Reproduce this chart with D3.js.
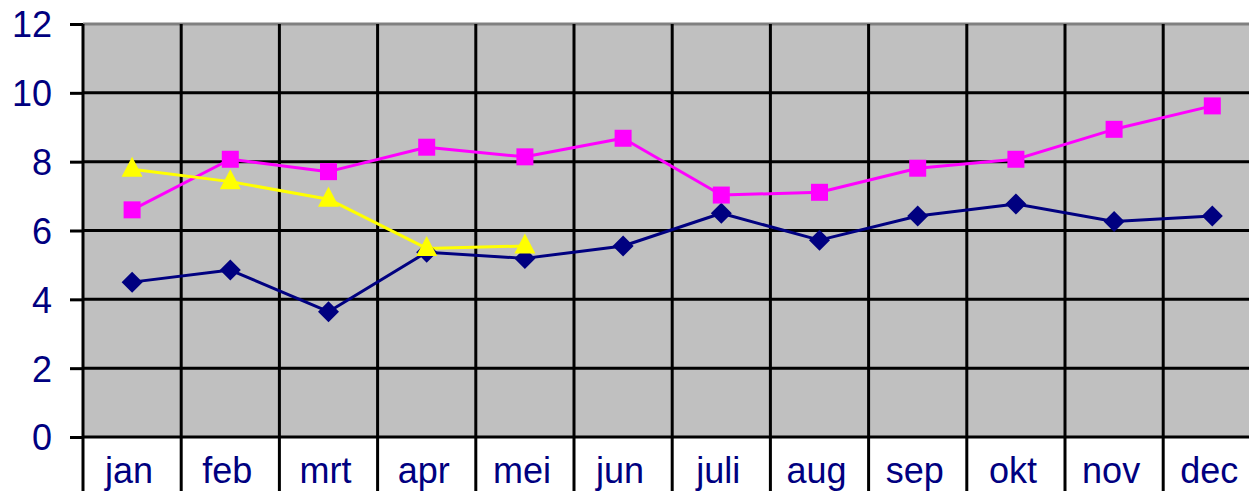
<!DOCTYPE html>
<html>
<head>
<meta charset="utf-8">
<script src="https://cdn.jsdelivr.net/npm/d3@7"></script>
<style>
  html, body { margin: 0; padding: 0; background: #fff; }
  svg { display: block; }
  text { font-family: "Liberation Sans", Arial, sans-serif; fill: #000080; }
</style>
</head>
<body>
<svg id="chart" width="1249" height="491"></svg>
<script>
const months = ["jan","feb","mrt","apr","mei","jun","juli","aug","sep","okt","nov","dec"];
const seriesNavy = [4.50, 4.85, 3.64, 5.37, 5.19, 5.55, 6.50, 5.72, 6.42, 6.77, 6.26, 6.42];
const seriesMagenta = [6.60, 8.07, 7.71, 8.42, 8.14, 8.68, 7.03, 7.11, 7.81, 8.07, 8.94, 9.62];
const seriesYellow = [7.78, 7.42, 6.91, 5.48, 5.55];
const yTicks = [0, 2, 4, 6, 8, 10, 12];

const W = 1249, H = 491;
const mLeft = 83, mTop = 24, mBottom = 437, band = 98.2;
const svg = d3.select("#chart");

const x = d3.scaleBand().domain(months).range([mLeft, mLeft + band * months.length]).padding(0);
const y = d3.scaleLinear().domain([0, 12]).range([mBottom, mTop]);
const cx = d => x(d) + x.bandwidth() / 2;

// plot background
svg.append("rect")
  .attr("x", mLeft).attr("y", y(12))
  .attr("width", x.range()[1] - mLeft).attr("height", y(0) - y(12))
  .attr("fill", "#c0c0c0");

// horizontal gridlines
svg.append("g").selectAll("line").data(yTicks).join("line")
  .attr("x1", mLeft).attr("x2", x.range()[1])
  .attr("y1", d => y(d)).attr("y2", d => y(d))
  .attr("stroke", d => d === 12 ? "#808080" : "#000")
  .attr("stroke-width", 3);

// vertical category separators (extend through label area)
svg.append("g").selectAll("line").data(months.slice(1)).join("line")
  .attr("x1", d => x(d)).attr("x2", d => x(d))
  .attr("y1", y(12)).attr("y2", H)
  .attr("stroke", "#000").attr("stroke-width", 3);

// y axis
const yAxis = svg.append("g")
  .attr("transform", `translate(${mLeft},0)`)
  .call(d3.axisLeft(y).tickValues(yTicks).tickSize(13).tickPadding(18).tickFormat(d3.format("d")));
yAxis.select(".domain").remove();
yAxis.selectAll(".tick line").attr("stroke", "#000").attr("stroke-width", 3);
yAxis.selectAll(".tick text").attr("font-size", 36).attr("dy", "0.36em")
  .style("font-family", "'Liberation Sans', Arial, sans-serif").attr("fill", "#000080");
svg.append("line")
  .attr("x1", mLeft).attr("x2", mLeft).attr("y1", y(12)).attr("y2", H)
  .attr("stroke", "#000").attr("stroke-width", 3);

// x labels
const xAxis = svg.append("g")
  .attr("transform", `translate(0,${mBottom})`)
  .call(d3.axisBottom(x).tickSize(0).tickPadding(0));
xAxis.select(".domain").remove();
xAxis.selectAll(".tick text").attr("font-size", 36).attr("y", 46).attr("dy", 0)
  .attr("dx", -3)
  .style("font-family", "'Liberation Sans', Arial, sans-serif").attr("fill", "#000080");

// lines
const line = d3.line().x((d, i) => cx(months[i])).y(d => y(d));
function drawSeries(data, color) {
  svg.append("path").datum(data)
    .attr("d", line).attr("fill", "none")
    .attr("stroke", color).attr("stroke-width", 3).attr("stroke-linejoin", "round");
}
drawSeries(seriesNavy, "#000080");
drawSeries(seriesMagenta, "#ff00ff");
drawSeries(seriesYellow, "#ffff00");

// markers
const diamond = r => `M0,${-r}L${r},0L0,${r}L${-r},0Z`;
const square = s => `M${-s/2},${-s/2}h${s}v${s}h${-s}Z`;
const triangle = (w, h) => `M0,${-h*0.62}L${w/2},${h*0.38}L${-w/2},${h*0.38}Z`;

svg.append("g").selectAll("path").data(seriesNavy).join("path")
  .attr("transform", (d, i) => `translate(${cx(months[i])},${y(d)})`)
  .attr("d", diamond(10.5)).attr("fill", "#000080");
svg.append("g").selectAll("path").data(seriesMagenta).join("path")
  .attr("transform", (d, i) => `translate(${cx(months[i])},${y(d)})`)
  .attr("d", square(17)).attr("fill", "#ff00ff");
svg.append("g").selectAll("path").data(seriesYellow).join("path")
  .attr("transform", (d, i) => `translate(${cx(months[i])},${y(d)})`)
  .attr("d", triangle(21, 20)).attr("fill", "#ffff00");
</script>
</body>
</html>
